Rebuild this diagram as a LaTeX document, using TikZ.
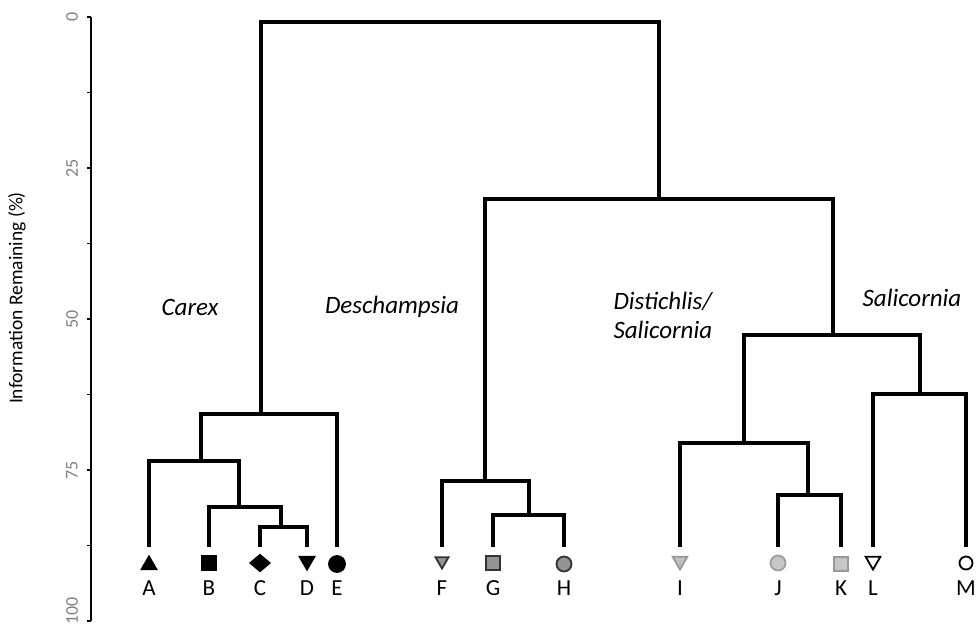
\documentclass[tikz,border=0pt]{standalone}
\usepackage{fontspec}
\setmainfont{Carlito}
\usetikzlibrary{shapes.geometric}

\begin{document}
\begin{tikzpicture}[x=1pt, y=-1pt,
  branch/.style={line width=3.2pt, line cap=rect, line join=miter},
  sym/.style={inner sep=0pt, line width=1.8pt},
  tri/.style={sym, regular polygon, regular polygon sides=3, minimum size=17pt},
  trid/.style={tri, shape border rotate=180},
  sq/.style={sym, rectangle, minimum size=14pt},
  dot/.style={sym, circle, minimum size=15pt},
  leaflab/.style={font=\fontsize{23}{26}\selectfont},
  grouplab/.style={font=\fontsize{25}{29}\selectfont\itshape, align=left},
  ticklab/.style={font=\fontsize{18}{20}\selectfont, text=gray, rotate=90}]
  \useasboundingbox (0,0) rectangle (979,627);

  % Axis with ticks every 12.5 %
  \coordinate (axtop) at (91,17);
  \coordinate (axbot) at (91,621);
  \draw[line width=2.4pt] (axtop) -- (axbot);
  \foreach \v in {0,12.5,...,100}
    \draw[line width=1.8pt] (91,17+6.04*\v) -- ++(-4,0);
  \foreach \v [count=\i] in {0,25,50,75}
    \node[ticklab] (ylab\i) at (72,17+6.04*\v) {\v};
  \node[ticklab] (ylab5) at (72,611) {100};
  \node[rotate=90, font=\fontsize{19.5}{22}\selectfont] (ytitle) at (17,298)
    {Information Remaining (\%)};

  % Leaves: top of branch, symbol and letter
  \foreach \n/\x in {A/149,B/209,C/260,D/307,E/337,F/442,G/493,H/564,
                     I/680,J/778,K/841,L/873,M/966} {
    \coordinate (\n) at (\x,545);
    \node[leaflab] (lab\n) at (\x,588) {\n};
  }
  \node[tri,  fill=black, draw=black]            (symA) at (149,565) {};
  \node[sq,   fill=black, draw=black]            (symB) at (209,563) {};
  \node[sym, diamond, minimum width=20pt, minimum height=17pt,
        fill=black, draw=black]                  (symC) at (260,563) {};
  \node[trid, fill=black, draw=black]            (symD) at (307,561) {};
  \node[dot,  fill=black, draw=black, minimum size=16pt] (symE) at (337,564) {};
  \node[trid, minimum size=15pt, fill=gray!85, draw=black!80] (symF) at (442,561) {};
  \node[sq,   fill=gray!85, draw=black!80]       (symG) at (493,563) {};
  \node[dot,  fill=gray!85, draw=black!80]       (symH) at (564,564) {};
  \node[trid, fill=gray!50, draw=gray!80]        (symI) at (680,561) {};
  \node[dot,  fill=gray!45, draw=gray!75]        (symJ) at (778,563) {};
  \node[sq,   fill=gray!45, draw=gray!80]        (symK) at (841,564) {};
  \node[trid, fill=white, draw=black]            (symL) at (873,561) {};
  \node[dot,  fill=white, draw=black, minimum size=13pt] (symM) at (966,563) {};

  % Joins
  \coordinate (jCD)   at (281,527);
  \coordinate (jBCD)  at (239,507);
  \coordinate (jABCD) at (201,461);
  \coordinate (jCarex) at (261,414);
  \coordinate (jGH)   at (529,515);
  \coordinate (jDes)  at (485,481);
  \coordinate (jJK)   at (808,495);
  \coordinate (jIJK)  at (744,443);
  \coordinate (jLM)   at (920,394);
  \coordinate (jDS)   at (833,335);
  \coordinate (jRest) at (659,199);
  \coordinate (jRoot) at (460,22);

  \draw[branch] (C) |- (jCD) -| (D);
  \draw[branch] (B) |- (jBCD) -| (jCD);
  \draw[branch] (A) |- (jABCD) -| (jBCD);
  \draw[branch] (jABCD) |- (jCarex) -| (E);
  \draw[branch] (G) |- (jGH) -| (H);
  \draw[branch] (F) |- (jDes) -| (jGH);
  \draw[branch] (J) |- (jJK) -| (K);
  \draw[branch] (I) |- (jIJK) -| (jJK);
  \draw[branch] (L) |- (jLM) -| (M);
  \draw[branch] (jIJK) |- (jDS) -| (jLM);
  \draw[branch] (jDes) |- (jRest) -| (jDS);
  \draw[branch] (jCarex) |- (jRoot) -| (jRest);

  % Group names
  \node[grouplab] (carex) at (190,307) {Carex};
  \node[grouplab] (desch) at (392,307) {Deschampsia};
  \node[grouplab, anchor=west] (distich) at (610,315) {Distichlis/\\Salicornia};
  \node[grouplab] (salic) at (912,298) {Salicornia};
\end{tikzpicture}
\end{document}
